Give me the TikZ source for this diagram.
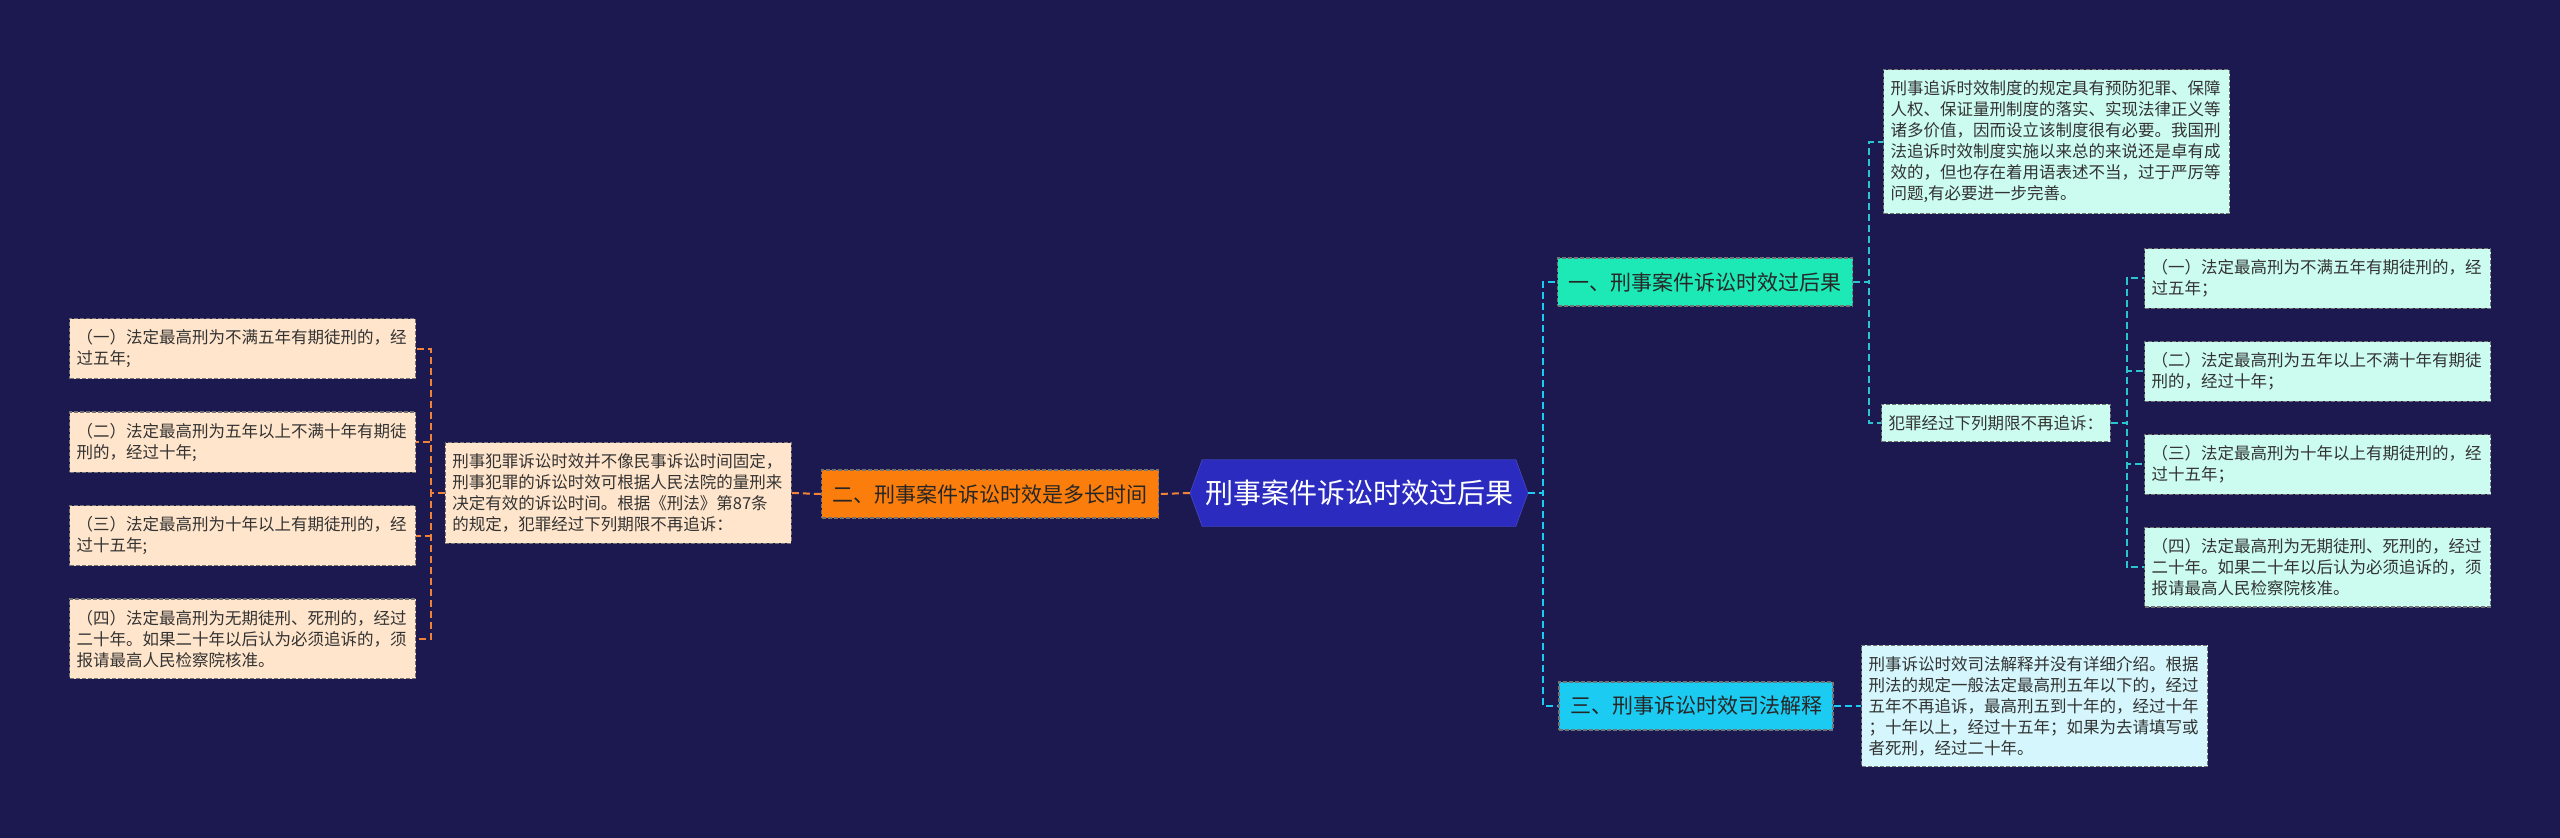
\documentclass[tikz,border=0pt]{standalone}
\usepackage{fontspec}
\newfontfamily\cjk{Noto Sans CJK SC}
\usetikzlibrary{shapes.symbols,positioning}

\definecolor{bgnavy}{HTML}{1B1950}
\definecolor{rootblue}{HTML}{2B2BBF}
\definecolor{tealbr}{HTML}{1DE9B6}
\definecolor{cyanbr}{HTML}{1CCBF2}
\definecolor{orangebr}{HTML}{FB7D0B}
\definecolor{mintleaf}{HTML}{CCFCEF}
\definecolor{skyleaf}{HTML}{D4F6FC}
\definecolor{peachleaf}{HTML}{FFE5CB}
\definecolor{tealline}{HTML}{2BC4CF}
\definecolor{orangeline}{HTML}{F0823A}

\begin{document}
\begin{tikzpicture}[
    x=1pt, y=-1pt,
    root/.style={signal, signal to=west and east, signal pointer angle=140, fill=rootblue, draw=rootblue!80!white, text=white, minimum width=338pt, minimum height=67pt, inner xsep=0pt, font=\cjk\fontsize{28}{34}\selectfont},
    branch/.style={rectangle, draw=black!55, dash pattern=on 4pt off 2pt, line width=1.2pt, minimum height=48pt, inner xsep=11pt, text=black!85, font=\cjk\fontsize{21}{25}\selectfont},
    leaf/.style={rectangle, draw=black!55, dash pattern=on 4pt off 2pt, line width=1.2pt, text width=332pt, align=left, inner xsep=7pt, inner ysep=11pt, text=black!80, font=\cjk\fontsize{16.5}{21}\selectfont},
    link/.style={line width=2pt, dash pattern=on 7pt off 4pt},
    linkR/.style={link, draw=tealline},
    linkL/.style={link, draw=orangeline},
]
    \fill[bgnavy] (0,0) rectangle (2560,838);

    \node[root] (root) at (1359,493) {刑事案件诉讼时效过后果};

    % right side
    \node[branch, fill=tealbr] (br1) at (1705,282) {一、刑事案件诉讼时效过后果};
    \node[leaf, fill=mintleaf, anchor=north west] (br1note) at (1883,69) {刑事追诉时效制度的规定具有预防犯罪、保障\\人权、保证量刑制度的落实、实现法律正义等\\诸多价值，因而设立该制度很有必要。我国刑\\法追诉时效制度实施以来总的来说还是卓有成\\效的，但也存在着用语表述不当，过于严厉等\\问题,有必要进一步完善。};
    \node[leaf, fill=mintleaf, text width=, anchor=west] (br1list) at (1881,423) {犯罪经过下列期限不再追诉：};

    \node[leaf, fill=mintleaf, anchor=north west] (r1) at (2144,248) {（一）法定最高刑为不满五年有期徒刑的，经\\过五年；};
    \node[leaf, fill=mintleaf, below=32pt of r1] (r2) {（二）法定最高刑为五年以上不满十年有期徒\\刑的，经过十年；};
    \node[leaf, fill=mintleaf, below=32pt of r2] (r3) {（三）法定最高刑为十年以上有期徒刑的，经\\过十五年；};
    \node[leaf, fill=mintleaf, below=32pt of r3] (r4) {（四）法定最高刑为无期徒刑、死刑的，经过\\二十年。如果二十年以后认为必须追诉的，须\\报请最高人民检察院核准。};

    \node[branch, fill=cyanbr] (br3) at (1696,706) {三、刑事诉讼时效司法解释};
    \node[leaf, fill=skyleaf, anchor=west] (br3note) at (1861,706) {刑事诉讼时效司法解释并没有详细介绍。根据\\刑法的规定一般法定最高刑五年以下的，经过\\五年不再追诉，最高刑五到十年的，经过十年\\；十年以上，经过十五年；如果为去请填写或\\者死刑，经过二十年。};

    % left side
    \node[branch, fill=orangebr] (br2) at (990,494) {二、刑事案件诉讼时效是多长时间};
    \node[leaf, fill=peachleaf, anchor=east] (br2note) at (792,493) {刑事犯罪诉讼时效并不像民事诉讼时间固定，\\刑事犯罪的诉讼时效可根据人民法院的量刑来\\决定有效的诉讼时间。根据《刑法》第87条\\的规定，犯罪经过下列期限不再追诉：};

    \node[leaf, fill=peachleaf, anchor=north west] (l1) at (69,318) {（一）法定最高刑为不满五年有期徒刑的，经\\过五年;};
    \node[leaf, fill=peachleaf, below=32pt of l1] (l2) {（二）法定最高刑为五年以上不满十年有期徒\\刑的，经过十年;};
    \node[leaf, fill=peachleaf, below=32pt of l2] (l3) {（三）法定最高刑为十年以上有期徒刑的，经\\过十五年;};
    \node[leaf, fill=peachleaf, below=32pt of l3] (l4) {（四）法定最高刑为无期徒刑、死刑的，经过\\二十年。如果二十年以后认为必须追诉的，须\\报请最高人民检察院核准。};

    % connectors
    \draw[linkR, draw=cyanbr] (root.east) -- ++(15,0) |- (br1.west);
    \draw[linkR, draw=cyanbr] (root.east) -- ++(15,0) |- (br3.west);
    \draw[linkR] (br1.east) -- ++(16,0) |- (br1note.west);
    \draw[linkR] (br1.east) -- ++(16,0) |- (br1list.west);
    \foreach \r in {r1,r2,r3,r4}
        \draw[linkR] (br1list.east) -- ++(16,0) |- (\r.west);
    \draw[linkR, draw=cyanbr] (br3.east) -- (br3note.west);

    \draw[linkL] (root.west) -- (br2.east);
    \draw[linkL] (br2.west) -- (br2note.east);
    \foreach \l in {l1,l2,l3,l4}
        \draw[linkL] (br2note.west) -- ++(-14,0) |- (\l.east);

\end{tikzpicture}
\end{document}
